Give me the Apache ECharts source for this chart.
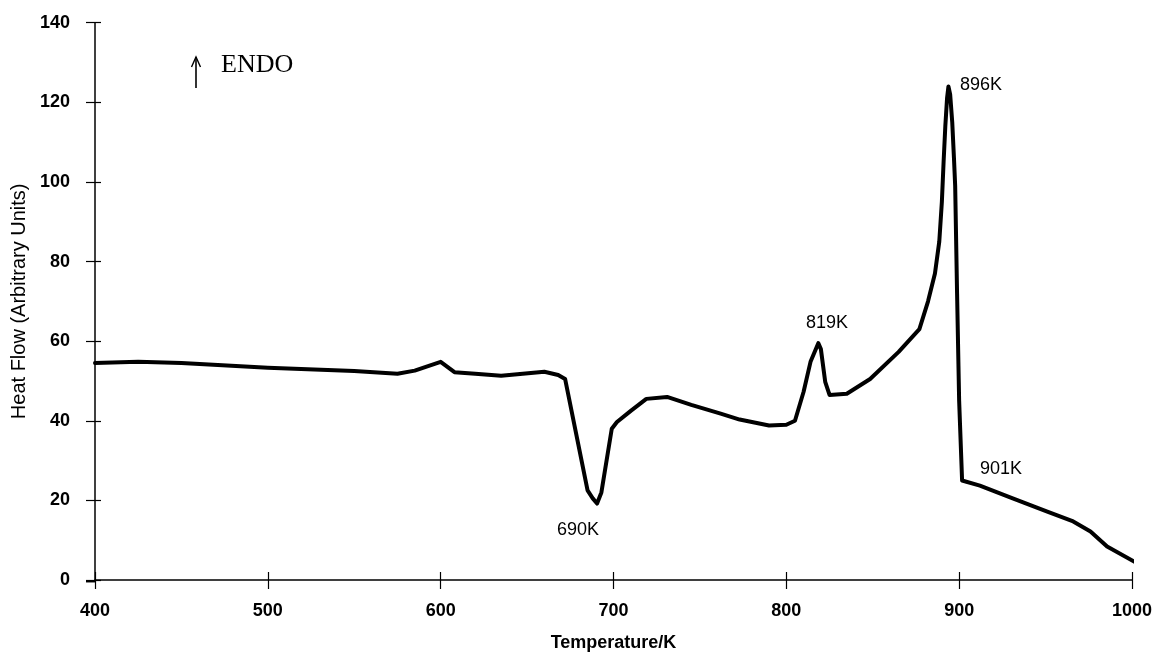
<!DOCTYPE html>
<html>
<head>
<meta charset="utf-8">
<script src="https://cdn.jsdelivr.net/npm/echarts@6/dist/echarts.min.js"></script>
<style>html,body{margin:0;padding:0;background:#fff}#c{width:1155px;height:657px}</style>
</head>
<body>
<div id="c"></div>
<script>
// Temperature (K)
const temps = [400, 425, 450, 500, 550, 575, 585, 591, 600, 608, 620, 635, 660, 668, 672,
  685, 688, 690.5, 693, 699, 702, 710, 719, 731, 745, 762, 773, 790, 800, 805,
  810, 814, 818.5, 820, 822.5, 825, 835, 848.5, 865, 877, 882, 886, 888.5, 890, 891, 892, 893, 893.8,
  894.8, 896, 897, 897.7, 898.8, 900, 901.7, 912, 931, 951, 966, 976, 985.6, 1003];
// Heat flow (arbitrary units)
const heatFlow = [54.5, 54.8, 54.5, 53.3, 52.5, 51.8, 52.6, 53.5, 54.8, 52.2, 51.8, 51.3, 52.3, 51.5, 50.5,
  22.5, 20.5, 19.2, 22, 38, 39.7, 42.5, 45.5, 46, 44, 41.8, 40.3, 38.8, 39.0, 40,
  47.3, 54.8, 59.5, 58, 49.8, 46.5, 46.8, 50.5, 57.3, 63, 70, 77, 85, 95, 105, 114, 121, 124,
  122, 115, 106, 99, 72, 45, 25, 23.7, 20.5, 17.2, 14.7, 12.2, 8.4, 4.2];
const xTicks = [400, 500, 600, 700, 800, 900, 1000];
const yTicks = [0, 20, 40, 60, 80, 100, 120, 140];
const peakLabels = ['896K', '819K', '690K', '901K'];

const chart = echarts.init(document.getElementById('c'));
const F = 'Liberation Sans, Arial, sans-serif';
const grid = {left: 95, right: 23, top: 22.7, bottom: 75.3};
const axisCommon = {
  axisLine: {show: true, lineStyle: {color: '#000', width: 1.5}},
  splitLine: {show: false}
};
chart.setOption({
  animation: false,
  backgroundColor: '#fff',
  grid: grid,
  xAxis: [{
    type: 'value', min: xTicks[0], max: xTicks[xTicks.length - 1], interval: 100,
    ...axisCommon,
    axisTick: {show: true, length: 9, lineStyle: {color: '#000', width: 1.2}},
    axisLabel: {color: '#000', fontFamily: F, fontSize: 18, fontWeight: 'bold', margin: 22,
      formatter: v => String(v)},
    name: 'Temperature/K', nameLocation: 'middle', nameGap: 54,
    nameTextStyle: {color: '#000', fontFamily: F, fontSize: 18, fontWeight: 'bold'}
  }, {
    type: 'value', min: xTicks[0], max: xTicks[xTicks.length - 1], interval: 100,
    position: 'bottom',
    axisLine: {show: false}, splitLine: {show: false}, axisLabel: {show: false},
    axisTick: {show: true, inside: true, length: 8, lineStyle: {color: '#000', width: 1.2}}
  }],
  yAxis: [{
    type: 'value', min: yTicks[0], max: yTicks[yTicks.length - 1], interval: 20,
    ...axisCommon,
    axisTick: {show: true, length: 9, lineStyle: {color: '#000', width: 1.2}},
    axisLabel: {color: '#000', fontFamily: F, fontSize: 18, fontWeight: 'bold', margin: 25,
      formatter: v => String(v)},
    name: 'Heat Flow (Arbitrary Units)', nameLocation: 'middle', nameGap: 61,
    nameTextStyle: {color: '#000', fontFamily: F, fontSize: 20}
  }, {
    type: 'value', min: yTicks[0], max: yTicks[yTicks.length - 1], interval: 20,
    position: 'left',
    axisLine: {show: false}, splitLine: {show: false}, axisLabel: {show: false},
    axisTick: {show: true, inside: true, length: 6, lineStyle: {color: '#000', width: 1.2}}
  }],
  series: [{
    type: 'line',
    data: temps.map((t, i) => [t, heatFlow[i]]),
    showSymbol: false,
    smooth: false,
    clip: false,
    lineStyle: {color: '#000', width: 4, join: 'round', cap: 'round'},
    xAxisIndex: 0, yAxisIndex: 0
  }],
  graphic: [
    {type: 'line', shape: {x1: 86, y1: 581.7, x2: 96, y2: 581.7}, style: {stroke: '#000', lineWidth: 1.5}},
    {type: 'line', shape: {x1: 196, y1: 88, x2: 196, y2: 57}, style: {stroke: '#000', lineWidth: 1.6}},
    {type: 'polyline', shape: {points: [[191.5, 67], [196, 57], [200.5, 67]]}, style: {stroke: '#000', lineWidth: 1.4, fill: null}},
    {type: 'text', left: 221, top: 52, style: {text: 'ENDO', font: '26px "Liberation Serif", "Times New Roman", serif', fill: '#000'}},
    {type: 'text', left: 960, top: 76, style: {text: peakLabels[0], font: '18px ' + F, fill: '#000'}},
    {type: 'text', left: 806, top: 314, style: {text: peakLabels[1], font: '18px ' + F, fill: '#000'}},
    {type: 'text', left: 557, top: 521, style: {text: peakLabels[2], font: '18px ' + F, fill: '#000'}},
    {type: 'text', left: 980, top: 460, style: {text: peakLabels[3], font: '18px ' + F, fill: '#000'}}
  ]
});
</script>
</body>
</html>
